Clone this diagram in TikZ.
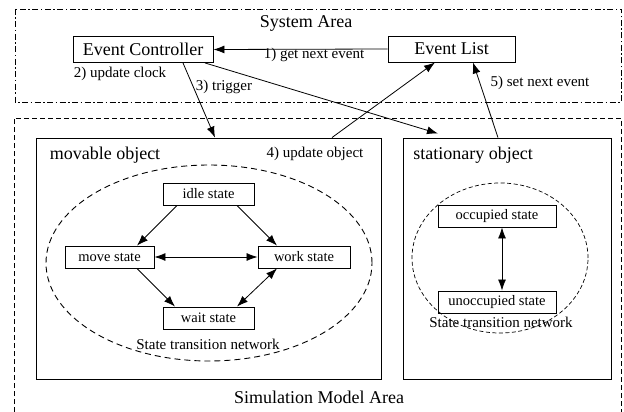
\documentclass[tikz,border=0pt]{standalone}
\usepackage{fontspec}
\setmainfont{Liberation Serif}
\usetikzlibrary{arrows.meta,calc}

\begin{document}
\begin{tikzpicture}[x=1pt,y=-1pt,
  big/.style={font=\fontsize{18}{20}\selectfont},
  lbl/.style={font=\fontsize{15}{17}\selectfont},
  small/.style={font=\fontsize{14.5}{16}\selectfont},
  topbox/.style={draw,line width=0.9pt,big,inner sep=0pt,minimum height=26pt},
  objbox/.style={draw,line width=0.9pt,inner sep=0pt},
  statebox/.style={draw,line width=0.9pt,small,inner sep=0pt,minimum height=22pt},
  arr/.style={line width=0.8pt,-{Latex[length=11pt,width=8pt]}},
  dbl/.style={line width=0.8pt,{Latex[length=11pt,width=8pt]}-{Latex[length=11pt,width=8pt]}},
  net/.style={dash pattern=on 6pt off 4pt, line width=0.9pt},
  netfine/.style={dash pattern=on 4pt off 2.5pt, line width=0.7pt},
]
\useasboundingbox (0,0) rectangle (624,412);

% the two areas
\draw[line width=0.8pt, dash pattern=on 6pt off 2.5pt on 1.5pt off 2.5pt] (15,9) rectangle (621,102);
\draw[line width=0.8pt, dash pattern=on 5pt off 3pt] (14,420) -- (14,118) -- (621,118) -- (621,420);
\node[big] (sysarea) at (306,23) {System Area};
\node[big] (simarea) at (319,397) {Simulation Model Area};

% system area contents
\node[topbox,minimum width=140pt] (ec) at (143,49.5) {Event Controller};
\node[topbox,minimum width=127pt] (el) at (451.5,49) {Event List};

% object containers
\node[objbox,minimum width=345pt,minimum height=241pt] (mov) at (208.5,258.5) {};
\node[objbox,minimum width=208pt,minimum height=241pt] (sta) at (507,258.5) {};
\node[big] (movlbl) at (105,155) {movable object};
\node[big] (stalbl) at (473,155) {stationary object};

% state transition networks
\draw[net] (209,263) ellipse [x radius=163pt, y radius=98pt];
\draw[netfine] (500,258) ellipse [x radius=88pt, y radius=75pt];
\node[lbl] (stn1) at (208,344) {State transition network};
\node[lbl] (stn2) at (501,322) {State transition network};

% movable object states
\node[statebox,minimum width=91pt] (idle) at (208.5,194) {idle state};
\node[statebox,minimum width=89pt] (move) at (109.5,257) {move state};
\node[statebox,minimum width=92pt] (work) at (304,257) {work state};
\node[statebox,minimum width=91pt] (wait) at (208.5,318) {wait state};

% stationary object states
\node[statebox,minimum width=118pt] (occ) at (497,216) {occupied state};
\node[statebox,minimum width=118pt] (unocc) at (497,302) {unoccupied state};

% transitions
\draw[arr] ([xshift=-31.5pt]idle.south) -- ([xshift=27.5pt]move.north);
\draw[arr] ([xshift=28.5pt]idle.south) -- ([xshift=-27pt]work.north);
\draw[dbl] (move.east) -- (work.west);
\draw[arr] ([xshift=27.5pt]move.south) -- ([xshift=-33.5pt]wait.north);
\draw[dbl] ([xshift=-27pt]work.south) -- ([xshift=28.5pt]wait.north);
\draw[dbl] ([xshift=5pt]occ.south) -- ([xshift=5pt]unocc.north);

% event flow
\draw[arr] (el.west) -- (ec.east);
\node[lbl] (l1) at (314,55) {1) get next event};
\node[lbl] (l2) at (120,74) {2) update clock};
\draw[arr] ([xshift=40pt]ec.south) -- ([xshift=6.5pt]mov.north);
\node[lbl] (l3) at (224,87) {3) trigger};
\draw[arr] ([xshift=62pt]ec.south) -- ([xshift=-69pt,yshift=4pt]sta.north);
\draw[arr] ([xshift=123.5pt]mov.north) -- ([xshift=-16.5pt]el.south);
\node[lbl] (l4) at (315,154) {4) update object};
\draw[arr] ([xshift=-9pt]sta.north) -- ([xshift=21.5pt]el.south);
\node[lbl] (l5) at (540,83) {5) set next event};
\end{tikzpicture}
\end{document}
